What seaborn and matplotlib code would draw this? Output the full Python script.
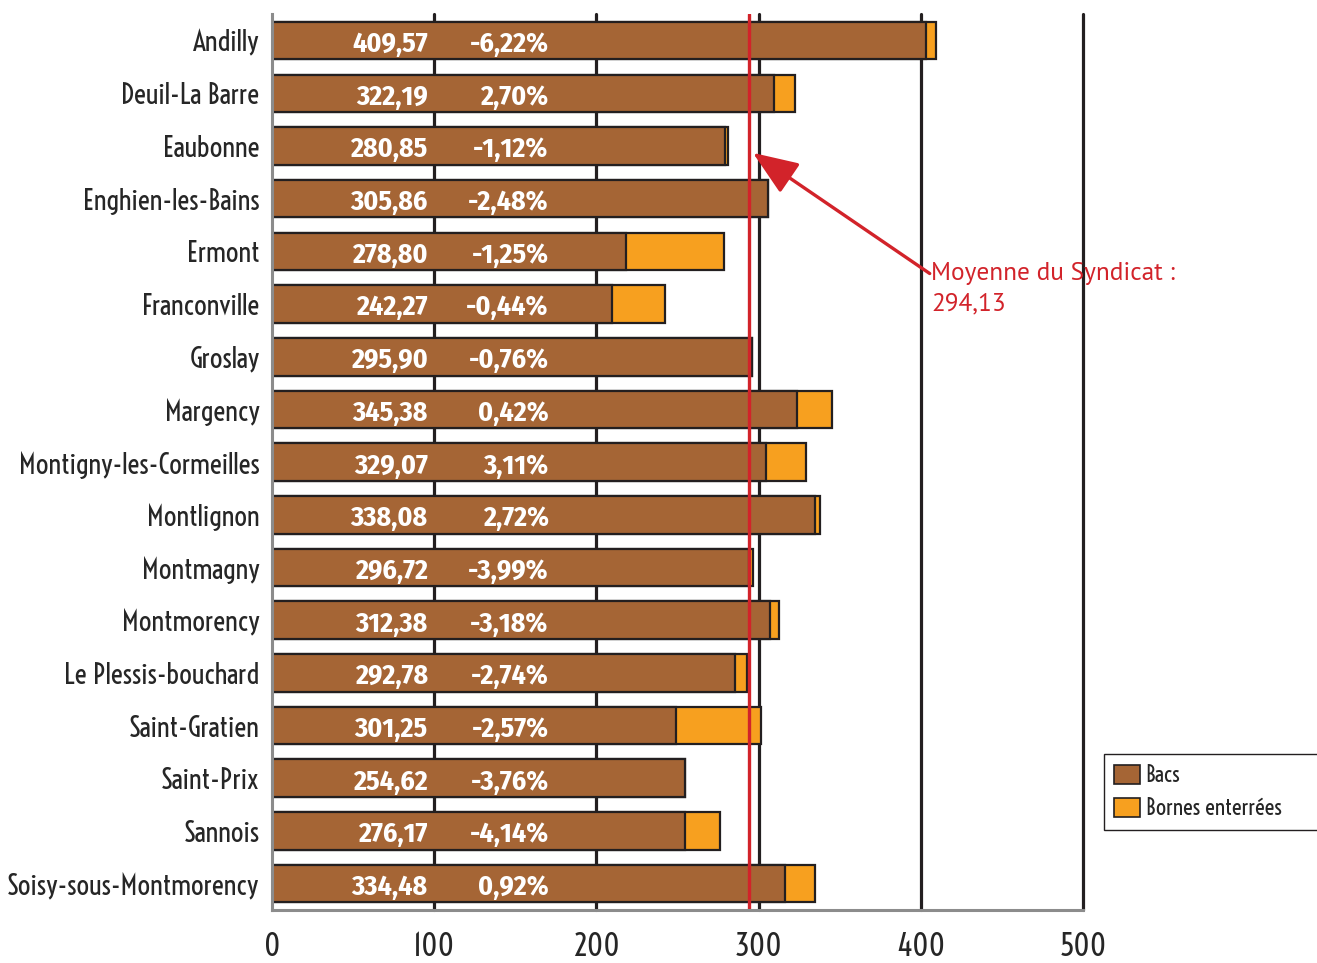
import matplotlib
matplotlib.use("Agg")
import matplotlib.pyplot as plt
from matplotlib import font_manager
from matplotlib.font_manager import FontProperties
from matplotlib.textpath import TextPath
from matplotlib.patches import Patch
import seaborn as sns
import pandas as pd

communes = ["Andilly", "Deuil-La Barre", "Eaubonne", "Enghien-les-Bains", "Ermont",
            "Franconville", "Groslay", "Margency", "Montigny-les-Cormeilles", "Montlignon",
            "Montmagny", "Montmorency", "Le Plessis-bouchard", "Saint-Gratien", "Saint-Prix",
            "Sannois", "Soisy-sous-Montmorency"]
totals = [409.57, 322.19, 280.85, 305.86, 278.80, 242.27, 295.90, 345.38, 329.07, 338.08,
          296.72, 312.38, 292.78, 301.25, 254.62, 276.17, 334.48]
bornes = [6.2, 12.6, 1.5, 0.0, 60.8, 32.8, 0.0, 21.6, 24.6, 3.2,
          2.6, 5.2, 7.1, 52.2, 0.0, 21.4, 18.0]
bacs = [t - b for t, b in zip(totals, bornes)]
total_labels = ["409,57", "322,19", "280,85", "305,86", "278,80", "242,27", "295,90", "345,38",
                "329,07", "338,08", "296,72", "312,38", "292,78", "301,25", "254,62", "276,17", "334,48"]
variations = ["-6,22%", "2,70%", "-1,12%", "-2,48%", "-1,25%", "-0,44%", "-0,76%", "0,42%",
              "3,11%", "2,72%", "-3,99%", "-3,18%", "-2,74%", "-2,57%", "-3,76%", "-4,14%", "0,92%"]
moyenne = 294.13
moyenne_label = "Moyenne du Syndicat :\n294,13"
xticks = [0, 100, 200, 300, 400, 500]
legend_labels = ["Bacs", "Bornes enterrées"]

BROWN = "#a56535"
ORANGE = "#f7a01f"
RED = "#d2232a"
DARK = "#231f20"

static_regular = set()
static_bold = set()
for f in font_manager.fontManager.ttflist:
    if "[" in f.fname:
        continue
    if f.weight in (400, "normal", "regular", "book") and f.style == "normal":
        static_regular.add(f.name)
    if f.weight in (700, "bold") and f.style == "normal":
        static_bold.add(f.name)


def ratio(text, fam, weight="normal"):
    ext = TextPath((0, 0), text, size=100,
                   prop=FontProperties(family=fam, weight=weight)).get_extents()
    return ext.height / ext.width


def best(cands, targets, pool, weight="normal"):
    scored = []
    for c in cands:
        if c not in pool:
            continue
        try:
            s = sum(abs(ratio(t, c, weight) - r) / r for t, r in targets)
        except Exception:
            continue
        scored.append((s, c))
    if not scored:
        return "DejaVu Sans"
    scored.sort()
    return scored[0][1]


narrow_cands = ["Sofia Sans Extra Condensed", "Sofia Sans Condensed", "Fira Sans Extra Condensed",
                "Fira Sans Condensed", "PT Sans Narrow", "Roboto Condensed", "Open Sans Condensed",
                "Asap Condensed", "Archivo Narrow", "Barlow Condensed", "Barlow Semi Condensed",
                "Saira Extra Condensed", "Saira Condensed", "Saira Semi Condensed",
                "Encode Sans Condensed", "Encode Sans Compressed", "IBM Plex Sans Condensed",
                "Ubuntu Condensed", "Pragati Narrow", "Roboto Flex", "Liberation Sans Narrow",
                "Cabin Condensed", "Encode Sans Semi Condensed", "Mohave", "Voltaire"]
NARROW = best(narrow_cands, [("100", 0.70), ("Andilly", 0.40)], static_regular)
semi_cands = ["Fira Sans Condensed", "PT Sans Narrow", "Roboto Condensed", "Asap Condensed",
              "Barlow Semi Condensed", "Liberation Sans"]
SEMI = next((c for c in semi_cands if c in static_bold), "DejaVu Sans")
hum_cands = ["PT Sans", "Fira Sans", "Lato", "Open Sans", "Noto Sans"]
HUM = next((c for c in hum_cands if c in static_regular), "DejaVu Sans")

sns.set_theme(style="white")
plt.rcParams["font.family"] = [NARROW, "DejaVu Sans"]

fig = plt.figure(figsize=(13.17, 9.63), dpi=100)
renderer = fig.canvas.get_renderer()


def fit(text, family, target_px, weight="normal"):
    t = fig.text(0, 0, text, fontsize=20, family=family, fontweight=weight)
    w = t.get_window_extent(renderer).width
    t.remove()
    return 20 * target_px / w


cat_size = fit("Soisy-sous-Montmorency", NARROW, 252)
tick_size = fit("100", NARROW, 42)
leg_size = fit("Bornes enterrées", NARROW, 136)
val_size = fit("409,57", SEMI, 76, "bold")
ann_size = fit("Moyenne du Syndicat :", HUM, 243)

df = pd.DataFrame({"commune": communes, "total": totals, "bacs": bacs})

ax = fig.add_axes([272 / 1317, 1 - 910 / 963, 811 / 1317, (910 - 14.3) / 963])

for x in xticks[1:]:
    ax.axvline(x, color=DARK, lw=2.3, zorder=0, clip_on=False)

sns.barplot(data=df, x="total", y="commune", orient="h", color=ORANGE, saturation=1,
            width=0.713, edgecolor=DARK, linewidth=1.6, ax=ax, zorder=2)
sns.barplot(data=df, x="bacs", y="commune", orient="h", color=BROWN, saturation=1,
            width=0.713, edgecolor=DARK, linewidth=1.6, ax=ax, zorder=3)

for i, (tl, v) in enumerate(zip(total_labels, variations)):
    ax.text(96, i + 0.07, tl, color="white", fontweight="bold", fontsize=val_size,
            family=SEMI, ha="right", va="center", zorder=5)
    ax.text(170.5, i + 0.07, v, color="white", fontweight="bold", fontsize=val_size,
            family=SEMI, ha="right", va="center", zorder=5)

ax.axvline(moyenne, color=RED, lw=2.4, zorder=4)
ax.annotate("", xy=(296.5, 2.13), xytext=(405.5, 4.42),
            arrowprops=dict(arrowstyle="-|>,head_length=1.4,head_width=0.55",
                            color=RED, lw=2.4, mutation_scale=20, shrinkA=0, shrinkB=0),
            zorder=6)
ax.text(406.5, 4.2, moyenne_label, color=RED, fontsize=ann_size, family=HUM,
        ha="left", va="top", linespacing=1.42, zorder=6)

ax.set_xlim(0, 500)
ax.set_ylim(16.5, -0.5)
ax.set_xticks(xticks)
ax.set_xticklabels([str(t) for t in xticks], fontsize=tick_size)
ax.tick_params(axis="x", length=0, pad=16)
ax.tick_params(axis="y", length=0, pad=9, labelsize=cat_size)
ax.set_xlabel("")
ax.set_ylabel("")
for s in ["top", "right"]:
    ax.spines[s].set_visible(False)
for s in ["left", "bottom"]:
    ax.spines[s].set_color("#8c8c8c")
    ax.spines[s].set_linewidth(2.2)
    ax.spines[s].set_zorder(4)

handles = [Patch(facecolor=BROWN, edgecolor=DARK, lw=1.2),
           Patch(facecolor=ORANGE, edgecolor=DARK, lw=1.2)]
leg = fig.legend(handles, legend_labels, loc="upper left", mode="expand",
                 bbox_to_anchor=(1104 / 1317, 0, 0.2, 1 - 754 / 963), fontsize=leg_size,
                 frameon=True, fancybox=False, edgecolor=DARK, framealpha=1,
                 handlelength=1.15, handleheight=0.95, handletextpad=0.25,
                 labelspacing=0.5, borderpad=0.45, borderaxespad=0)
leg.get_frame().set_linewidth(1.0)

fig.savefig("out.png", dpi=100)
